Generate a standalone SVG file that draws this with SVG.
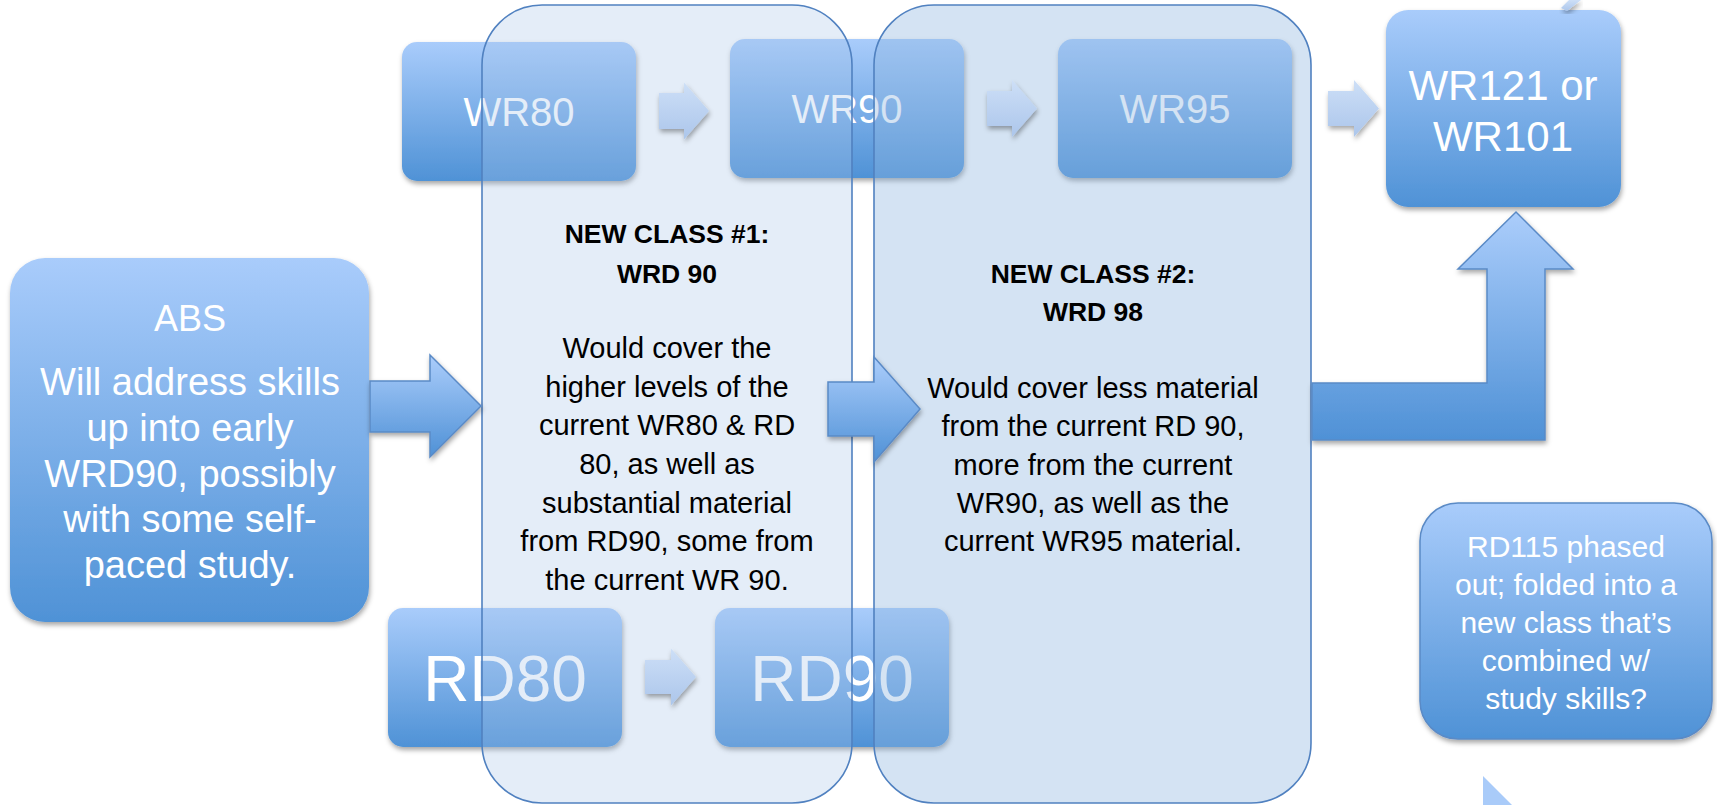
<svg xmlns="http://www.w3.org/2000/svg" width="1717" height="805" viewBox="0 0 1717 805">
<defs>
  <linearGradient id="boxGrad" x1="0" y1="0" x2="0" y2="1">
    <stop offset="0" stop-color="#a9ccfb"/>
    <stop offset="1" stop-color="#4f92d6"/>
  </linearGradient>
  <linearGradient id="arrowGrad" x1="0" y1="0" x2="0" y2="1">
    <stop offset="0" stop-color="#abcdfb"/>
    <stop offset="1" stop-color="#4f91d6"/>
  </linearGradient>
  <linearGradient id="smallArrowGrad" x1="0" y1="0" x2="0" y2="1">
    <stop offset="0" stop-color="#cddff7"/>
    <stop offset="1" stop-color="#acc6eb"/>
  </linearGradient>
  <filter id="shadow" x="-10%" y="-10%" width="120%" height="130%">
    <feDropShadow dx="1" dy="3" stdDeviation="2.5" flood-color="#000" flood-opacity="0.35"/>
  </filter>
  <style>
    .box { fill: url(#boxGrad); filter: url(#shadow); }
    .boxStroke { fill: url(#boxGrad); stroke: #5a8ac6; stroke-width: 1.5; filter: url(#shadow); }
    .wtext { fill: #ffffff; font-family: "Liberation Sans", Arial, sans-serif; text-anchor: middle; }
    .btext { fill: #000000; font-family: "Liberation Sans", Arial, sans-serif; text-anchor: middle; font-size: 29px; }
    .bold { font-weight: bold; font-size: 26.5px; }
    .container1 { fill: #a5c3e8; fill-opacity: 0.3; stroke: #5081c0; stroke-width: 1.6; }
    .container2 { fill: #8fb6e0; fill-opacity: 0.38; stroke: #5081c0; stroke-width: 1.6; }
    .bigArrow { fill: url(#arrowGrad); stroke: #5a8ac6; stroke-width: 1.5; filter: url(#shadow); }
    .smallArrow { fill: url(#smallArrowGrad); filter: url(#shadow); }
  </style>
</defs>
<rect width="1717" height="805" fill="#ffffff"/>

<g id="node-wr80">
  <rect class="box" x="402" y="42" width="234" height="139" rx="15"/>
  <text class="wtext" x="519" y="126" font-size="40">WR80</text>
</g>
<g id="node-wr90">
  <rect class="box" x="730" y="39" width="234" height="139" rx="15"/>
  <text class="wtext" x="847" y="123" font-size="40">WR90</text>
</g>
<g id="node-wr95">
  <rect class="box" x="1058" y="39" width="234" height="139" rx="15"/>
  <text class="wtext" x="1175" y="123" font-size="40">WR95</text>
</g>
<g id="node-rd80">
  <rect class="box" x="388" y="608" width="234" height="139" rx="15"/>
  <text class="wtext" x="505" y="701" font-size="64">RD80</text>
</g>
<g id="node-rd90">
  <rect class="box" x="715" y="608" width="234" height="139" rx="15"/>
  <text class="wtext" x="832" y="701" font-size="64">RD90</text>
</g>

<g id="node-class1">
  <rect class="container1" x="482" y="5" width="370" height="798" rx="60"/>
  <text class="btext bold" x="667" y="243">NEW CLASS #1:</text>
  <text class="btext bold" x="667" y="283">WRD 90</text>
  <text class="btext" x="667" y="358">Would cover the</text>
  <text class="btext" x="667" y="397">higher levels of the</text>
  <text class="btext" x="667" y="435">current WR80 &amp; RD</text>
  <text class="btext" x="667" y="474">80, as well as</text>
  <text class="btext" x="667" y="513">substantial material</text>
  <text class="btext" x="667" y="551">from RD90, some from</text>
  <text class="btext" x="667" y="590">the current WR 90.</text>
</g>
<g id="node-class2">
  <rect class="container2" x="874" y="5" width="437" height="798" rx="60"/>
  <text class="btext bold" x="1093" y="283">NEW CLASS #2:</text>
  <text class="btext bold" x="1093" y="321">WRD 98</text>
  <text class="btext" x="1093" y="398">Would cover less material</text>
  <text class="btext" x="1093" y="436">from the current RD 90,</text>
  <text class="btext" x="1093" y="475">more from the current</text>
  <text class="btext" x="1093" y="513">WR90, as well as the</text>
  <text class="btext" x="1093" y="551">current WR95 material.</text>
</g>

<g id="node-abs">
  <rect class="box" x="10" y="258" width="359" height="364" rx="35"/>
  <text class="wtext" x="190" y="331" font-size="36">ABS</text>
  <text class="wtext" x="190" y="395" font-size="38">Will address skills</text>
  <text class="wtext" x="190" y="441" font-size="38">up into early</text>
  <text class="wtext" x="190" y="487" font-size="38">WRD90, possibly</text>
  <text class="wtext" x="190" y="532" font-size="38">with some self-</text>
  <text class="wtext" x="190" y="578" font-size="38">paced study.</text>
</g>
<g id="node-wr121">
  <rect class="box" x="1386" y="10" width="235" height="197" rx="22"/>
  <text class="wtext" x="1503" y="100" font-size="42">WR121 or</text>
  <text class="wtext" x="1503" y="151" font-size="42">WR101</text>
</g>
<g id="node-rd115">
  <rect class="boxStroke" x="1420" y="503" width="292" height="236" rx="38"/>
  <text class="wtext" x="1566" y="557" font-size="30">RD115 phased</text>
  <text class="wtext" x="1566" y="595" font-size="30">out; folded into a</text>
  <text class="wtext" x="1566" y="633" font-size="30">new class that’s</text>
  <text class="wtext" x="1566" y="671" font-size="30">combined w/</text>
  <text class="wtext" x="1566" y="709" font-size="30">study skills?</text>
</g>

<g id="connectors">
  <path class="smallArrow" d="M659,93 H684 V82.5 L709,111 L684,139.5 V129 H659 Z"/>
  <path class="smallArrow" d="M987,91 H1012 V80 L1037,108.5 L1012,137 V126 H987 Z"/>
  <path class="smallArrow" d="M1328,91 H1354 V80 L1379,108.5 L1354,137 V126 H1328 Z"/>
  <path class="smallArrow" d="M645,660 H671 V648.5 L696,677 L671,705.5 V694 H645 Z"/>
  <path class="bigArrow" d="M370,381 H430 V355 L481,406 L430,457 V432 H370 Z"/>
  <path class="bigArrow" d="M828,382 H874 V357 L920,409 L874,462 V436 H828 Z"/>
  <path class="bigArrow" d="M1312,383 H1487 V269 H1458 L1516,212 L1573,269 H1545 V440 H1312 Z"/>
  <path class="smallArrow" d="M1561,8 L1569,0 L1581,0 L1567,11 Z"/>
  <path d="M1483,776 L1512,805 L1483,805 Z" fill="#a9cbf9"/>
</g>
</svg>
